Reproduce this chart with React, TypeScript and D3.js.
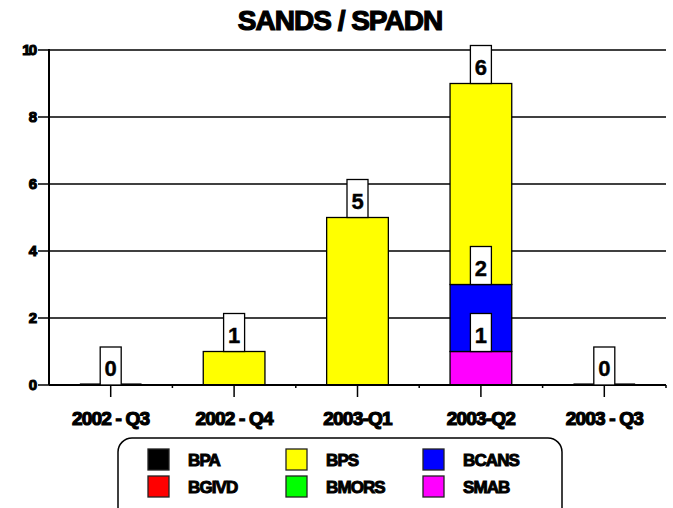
import * as d3 from "d3";
import React from "react";

// données du graphique
const categories = ["2002 - Q3", "2002 - Q4", "2003-Q1", "2003-Q2", "2003 - Q3"];
const BPA = [0, 0, 0, 0, 0];
const BGIVD = [0, 0, 0, 0, 0];
const BPS = [0, 1, 5, 6, 0];
const BMORS = [0, 0, 0, 0, 0];
const BCANS = [0, 0, 0, 2, 0];
const SMAB = [0, 0, 0, 1, 0];
const yTicks = [0, 2, 4, 6, 8, 10];

const seriesNames = ["BPA", "BGIVD", "BPS", "BMORS", "BCANS", "SMAB"];
const seriesColors = ["#000000", "#ff0000", "#ffff00", "#00ff00", "#0000ff", "#ff00ff"];
// ordre d'empilement, du bas vers le haut
const stackOrder = ["SMAB", "BCANS", "BPA", "BGIVD", "BMORS", "BPS"];

const W = 673;
const H = 508;
const margin = { top: 50, right: 7, bottom: 123, left: 49 };

const font = "'Liberation Sans', Arial, sans-serif";

export default function App() {
  const valuesByName: Record<string, number[]> = { BPA, BGIVD, BPS, BMORS, BCANS, SMAB };
  const colorOf = d3.scaleOrdinal<string, string>().domain(seriesNames).range(seriesColors);

  const rows = categories.map((c, i) => {
    const r: any = { cat: c };
    seriesNames.forEach(n => (r[n] = valuesByName[n][i]));
    return r;
  });
  const stacked = d3.stack().keys(stackOrder)(rows);

  const x = d3.scaleBand().domain(categories).range([margin.left, W - margin.right]);
  const y = d3.scaleLinear().domain([0, 10]).range([H - margin.bottom, margin.top]);
  const barW = x.bandwidth() / 2;

  const totals = categories.map((_, i) => seriesNames.reduce((s, n) => s + valuesByName[n][i], 0));

  const boxW = 21;
  const boxH = 38;

  const labels: { cx: number; top: number; v: number }[] = [];
  stacked.forEach(s => {
    s.forEach((d, i) => {
      const v = d[1] - d[0];
      if (v > 0) labels.push({ cx: x(categories[i])! + x.bandwidth() / 2, top: y(d[1]), v });
    });
  });
  totals.forEach((t, i) => {
    if (t === 0) labels.push({ cx: x(categories[i])! + x.bandwidth() / 2, top: y(0), v: 0 });
  });

  const x0 = margin.left;
  const x1 = W - margin.right;
  const yBase = y(0);

  const legendCols = [148, 286, 423];
  const legendRows = [449, 476];

  return (
    <svg width={W} height={H} style={{ position: "absolute", left: 0, top: 0, background: "#fff" }}>
      <text x={340} y={30} textAnchor="middle" fontFamily={font} fontWeight="bold" fontSize={28}
        letterSpacing={-1} stroke="#000" strokeWidth={1.2}>SANDS / SPADN</text>

      {/* grille et graduations Y */}
      {yTicks.map(t => (
        <g key={t}>
          <line x1={38} x2={x1} y1={y(t)} y2={y(t)} stroke="#000" strokeWidth={1.6} />
          <text x={35} y={y(t) + 5} textAnchor="end" fontFamily={font} fontWeight="bold" fontSize={15}
            stroke="#000" strokeWidth={1.1} letterSpacing={-2}>{t}</text>
        </g>
      ))}

      {/* barres empilées */}
      {stacked.map(s => (
        <g key={s.key}>
          {s.map((d, i) => d[1] - d[0] > 0 ? (
            <rect key={i} x={x(categories[i])! + x.bandwidth() / 2 - barW / 2} y={y(d[1])}
              width={barW} height={y(d[0]) - y(d[1])} fill={colorOf(s.key)} stroke="#000" strokeWidth={1.3} />
          ) : null)}
        </g>
      ))}
      {totals.map((t, i) => t === 0 ? (
        <line key={i} x1={x(categories[i])! + x.bandwidth() / 2 - barW / 2} x2={x(categories[i])! + x.bandwidth() / 2 + barW / 2}
          y1={yBase - 1} y2={yBase - 1} stroke="#333" strokeWidth={1.5} />
      ) : null)}

      {/* axes */}
      <line x1={x0} x2={x0} y1={y(10) - 1} y2={yBase} stroke="#000" strokeWidth={2} />
      <line x1={x0} x2={x1} y1={yBase} y2={yBase} stroke="#000" strokeWidth={2} />
      {categories.map((c, i) => (
        <g key={c}>
          <line x1={x(c)! + x.bandwidth() / 2} x2={x(c)! + x.bandwidth() / 2} y1={yBase} y2={yBase + 12}
            stroke="#000" strokeWidth={1.5} />
          {i > 0 && <line x1={x(c)!} x2={x(c)!} y1={yBase} y2={yBase + 3} stroke="#000" strokeWidth={1.5} />}
          <text x={x(c)! + x.bandwidth() / 2} y={425} textAnchor="middle" fontFamily={font} fontWeight="bold"
            fontSize={19} letterSpacing={-0.8} stroke="#000" strokeWidth={1.2}>{c}</text>
        </g>
      ))}
      <line x1={x1} x2={x1} y1={yBase} y2={yBase + 3} stroke="#000" strokeWidth={1.5} />

      {/* étiquettes de valeurs */}
      {labels.map((l, i) => (
        <g key={i}>
          <rect x={l.cx - boxW / 2} y={l.top - boxH} width={boxW} height={boxH} fill="#fff" stroke="#000" strokeWidth={1.3} />
          <text x={l.cx} y={l.top - 9} textAnchor="middle" fontFamily={font} fontWeight="bold" fontSize={22}
            stroke="#000" strokeWidth={0.4}>{l.v}</text>
        </g>
      ))}

      {/* légende */}
      <rect x={118} y={438} width={444} height={90} rx={14} fill="#fff" stroke="#000" strokeWidth={1.5} />
      {seriesNames.map((n, i) => {
        const col = Math.floor(i / 2);
        const row = i % 2;
        const sx = legendCols[col];
        const sy = legendRows[row];
        return (
          <g key={n}>
            <rect x={sx} y={sy} width={21} height={21} fill={colorOf(n)} stroke="#222" strokeWidth={1.3} />
            <text x={sx + 40} y={sy + 17} fontFamily={font} fontWeight="bold" fontSize={17}
              letterSpacing={-0.9} stroke="#000" strokeWidth={1}>{n}</text>
          </g>
        );
      })}
    </svg>
  );
}
